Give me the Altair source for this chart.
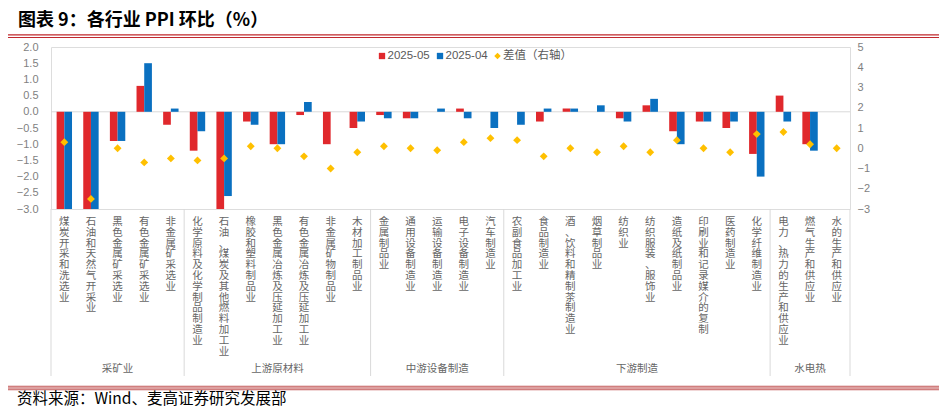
import altair as alt
import pandas as pd

# ---------------- data ----------------
cats = [
    "煤炭开采和洗选业", "石油和天然气开采业", "黑色金属矿采选业", "有色金属矿采选业", "非金属矿采选业",
    "化学原料及化学制品制造业", "石油、煤炭及其他燃料加工业", "橡胶和塑料制品业", "黑色金属冶炼及压延加工业",
    "有色金属冶炼及压延加工业", "非金属矿物制品业", "木材加工制品业",
    "金属制品业", "通用设备制造业", "运输设备制造业", "电子设备制造业", "汽车制造业",
    "农副食品加工业", "食品制造业", "酒、饮料和精制茶制造业", "烟草制品业", "纺织业", "纺织服装、服饰业",
    "造纸及纸制品业", "印刷业和记录媒介的复制", "医药制造业", "化学纤维制造业",
    "电力、热力的生产和供应业", "燃气生产和供应业", "水的生产和供应业",
]
may = [-3.3, -5.6, -0.9, 0.8, -0.4, -1.2, -3.1, -0.3, -1.0, -0.1, -1.0, -0.5,
       -0.1, -0.2, 0.0, 0.1, 0.0, 0.0, -0.3, 0.1, 0.0, -0.2, 0.2, -0.6, -0.3, -0.5, -1.3,
       0.5, -1.0, 0.0]
apr = [-3.6, -3.1, -0.9, 1.5, 0.1, -0.6, -2.6, -0.4, -1.0, 0.3, 0.0, -0.3,
       -0.2, -0.2, 0.1, -0.2, -0.5, -0.4, 0.1, 0.1, 0.2, -0.3, 0.4, -1.0, -0.3, -0.3, -2.0,
       -0.3, -1.2, 0.0]
diff = [0.3, -2.5, 0.0, -0.7, -0.5, -0.6, -0.5, 0.1, 0.0, -0.4, -1.0, -0.2,
        0.1, 0.0, -0.1, 0.3, 0.5, 0.4, -0.4, 0.0, -0.2, 0.1, -0.2, 0.4, 0.0, -0.2, 0.7,
        0.8, 0.2, 0.0]
groups = ["采矿业", "上游原材料", "中游设备制造", "下游制造", "水电热"]
group_sizes = [5, 7, 5, 10, 3]
series_names = ["2025-05", "2025-04"]
diff_name = "差值（右轴）"
left_ticks = [2.0, 1.5, 1.0, 0.5, 0.0, -0.5, -1.0, -1.5, -2.0, -2.5, -3.0]
right_ticks = [5, 4, 3, 2, 1, 0, -1, -2, -3]
title_text = "图表 9：各行业 PPI 环比（%）"
source_text = "资料来源：Wind、麦高证券研究发展部"

# ---------------- styles ----------------
W, H = 799, 162
RED, BLUE, GOLD = "#E0282C", "#0A70C0", "#FFC000"
GRAY_TXT = "#7F7F7F"
LAT = "Liberation Sans"
CJK = "Noto Sans CJK SC"

df_bars = pd.DataFrame(
    [{"cat": c, "series": series_names[0], "value": v} for c, v in zip(cats, may)]
    + [{"cat": c, "series": series_names[1], "value": v} for c, v in zip(cats, apr)]
)
df_diff = pd.DataFrame({"cat": cats, "diff": diff})
df_lab = pd.DataFrame({"cat": cats, "label": ["\n".join(list(c)) for c in cats]})

starts, odd_rows, even_rows = [], [], []
pos = 0
for g, n in zip(groups, group_sizes):
    starts.append(cats[pos])
    if n % 2 == 1:
        odd_rows.append({"cat": cats[pos + n // 2], "name": g})
    else:
        even_rows.append({"cat": cats[pos + n // 2], "name": g})
    pos += n
df_sep_start = pd.DataFrame({"cat": starts})
df_sep_end = pd.DataFrame({"cat": [cats[-1]]})
df_grp_odd = pd.DataFrame(odd_rows)
df_grp_even = pd.DataFrame(even_rows)
one = pd.DataFrame({"k": [0]})


def xcat(**kw):
    return alt.X("cat:N", scale=alt.Scale(domain=cats, paddingInner=0, paddingOuter=0), axis=None, **kw)


zero_rule = alt.Chart(one).mark_rule(color="#D9D9D9", strokeWidth=1).encode(
    y=alt.Y(datum=0, type="quantitative", scale=alt.Scale(domain=[-3, 2], nice=False), axis=None),
    x=alt.value(0), x2=alt.value(W),
)

bars = alt.Chart(df_bars).mark_bar().encode(
    x=xcat(),
    xOffset=alt.XOffset("series:N", sort=series_names,
                        scale=alt.Scale(domain=series_names, paddingInner=0, paddingOuter=0.73)),
    y=alt.Y("value:Q", scale=alt.Scale(domain=[-3, 2], nice=False, clamp=True),
            axis=alt.Axis(values=left_ticks, format=".1f", title=None, grid=False, domain=False,
                          ticks=False, labelPadding=13, labelFont=LAT, labelFontSize=11,
                          labelColor=GRAY_TXT, orient="left")),
    color=alt.Color("series:N", scale=alt.Scale(domain=series_names, range=[RED, BLUE]), legend=None),
)

points = alt.Chart(df_diff).mark_point(shape="diamond", filled=True, size=62, color=GOLD,
                                       opacity=1, strokeWidth=0).encode(
    x=xcat(),
    y=alt.Y("diff:Q", scale=alt.Scale(domain=[-3, 5], nice=False),
            axis=alt.Axis(values=right_ticks, format="d", title=None, grid=False, domain=False,
                          ticks=False, labelPadding=7, labelFont=LAT, labelFontSize=11,
                          labelColor=GRAY_TXT, orient="right")),
)

cat_labels = alt.Chart(df_lab).mark_text(
    lineBreak="\n", baseline="top", align="center", font=CJK, fontSize=10.5,
    lineHeight=10.8, color="#666666",
).encode(x=xcat(), y=alt.value(170), text="label:N")

grp_odd = alt.Chart(df_grp_odd).mark_text(
    baseline="middle", align="center", font=CJK, fontSize=10.5, color="#666666",
).encode(x=xcat(), y=alt.value(322), text="name:N")
grp_even = alt.Chart(df_grp_even).mark_text(
    baseline="middle", align="center", font=CJK, fontSize=10.5, color="#666666",
).encode(x=xcat(bandPosition=0), y=alt.value(322), text="name:N")

sep_start = alt.Chart(df_sep_start).mark_rule(color="#D9D9D9", strokeWidth=1).encode(
    x=xcat(bandPosition=0), y=alt.value(H), y2=alt.value(329))
sep_end = alt.Chart(df_sep_end).mark_rule(color="#D9D9D9", strokeWidth=1).encode(
    x=xcat(bandPosition=1), y=alt.value(H), y2=alt.value(329))

# legend
leg = []
for sx, col, shape, txt, font in [(331, RED, "square", series_names[0], LAT),
                                  (389, BLUE, "square", series_names[1], LAT),
                                  (446.5, GOLD, "diamond", diff_name, CJK)]:
    leg.append(alt.Chart(one).mark_point(shape=shape, filled=True, size=40 if shape == "square" else 42,
                                         color=col, opacity=1, strokeWidth=0)
               .encode(x=alt.value(sx), y=alt.value(9)))
    leg.append(alt.Chart(one).mark_text(align="left", baseline="middle", font=font, fontSize=11.5,
                                        color="#595959", text=txt)
               .encode(x=alt.value(sx + 5.5), y=alt.value(9)))

title = alt.Chart(one).mark_text(align="left", baseline="alphabetic", font=CJK, fontSize=18,
                                 fontWeight="bold", color="#000000", text=title_text).encode(
    x=alt.value(-33), y=alt.value(-21.5))
line1 = alt.Chart(one).mark_rule(color="#C0282D", strokeWidth=1.3).encode(
    x=alt.value(-46), x2=alt.value(890), y=alt.value(-12.2))
line2 = alt.Chart(one).mark_rule(color="#C0282D", strokeWidth=1.1).encode(
    x=alt.value(-46), x2=alt.value(890), y=alt.value(-9.5))
band = alt.Chart(one).mark_rule(color="#DDA0A0", strokeWidth=4.2).encode(
    x=alt.value(-46), x2=alt.value(890), y=alt.value(341))
band_e1 = alt.Chart(one).mark_rule(color="#C86A6A", strokeWidth=0.9).encode(
    x=alt.value(-46), x2=alt.value(890), y=alt.value(339.2))
band_e2 = alt.Chart(one).mark_rule(color="#C86A6A", strokeWidth=0.9).encode(
    x=alt.value(-46), x2=alt.value(890), y=alt.value(342.8))
footer = alt.Chart(one).mark_text(align="left", baseline="middle", font=CJK, fontSize=15.5,
                                  color="#000000", text=source_text).encode(
    x=alt.value(-34), y=alt.value(352))

chart = alt.layer(
    zero_rule, bars, points, cat_labels, grp_odd, grp_even, sep_start, sep_end,
    *leg, title, line1, line2, band, band_e1, band_e2, footer,
).resolve_scale(y="independent").properties(
    width=W, height=H,
    autosize=alt.AutoSizeParams(type="none"),
    padding={"left": 43, "top": 39, "right": 89, "bottom": 199},
).configure_view(stroke=None).configure(background="white")

chart.save("out.html", embed_options={"renderer": "svg", "actions": False})
